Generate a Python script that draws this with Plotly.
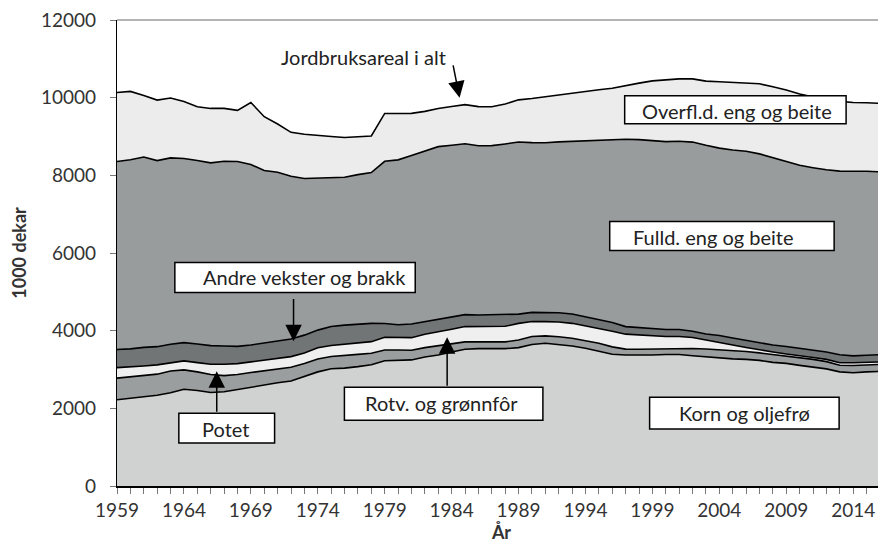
import plotly.graph_objects as go

years = list(range(1959, 2018))

korn = [2220, 2259, 2297, 2336, 2400, 2490, 2459, 2408, 2426, 2485,
        2541, 2605, 2657, 2703, 2823, 2939, 3021, 3036, 3075, 3124,
        3226, 3234, 3247, 3324, 3375, 3452, 3522, 3537, 3537, 3537,
        3563, 3645, 3676, 3650, 3606, 3547, 3478, 3393, 3375, 3368,
        3375, 3388, 3388, 3355, 3324, 3290, 3273, 3260, 3234, 3183,
        3157, 3106, 3067, 3016, 2939, 2918, 2939, 2952, 2959]

potet = [557, 552, 545, 544, 560, 500, 480, 462, 415, 385,
         380, 367, 359, 356, 330, 330, 315, 318, 315, 295,
         278, 270, 250, 240, 238, 224, 190, 175, 172, 175,
         195, 205, 190, 195, 198, 195, 198, 190, 150, 154,
         154, 150, 159, 187, 205, 220, 215, 205, 193, 205,
         185, 197, 193, 187, 170, 185, 180, 184, 185]

rotv = [270, 250, 249, 239, 218, 231, 239, 266, 295, 282,
        275, 275, 274, 273, 270, 291, 282, 293, 283, 298,
        326, 326, 323, 344, 352, 359, 393, 393, 393, 400,
        429, 385, 367, 377, 385, 378, 392, 403, 385, 367,
        342, 313, 303, 282, 231, 193, 141, 103, 77, 64,
        55, 59, 50, 57, 64, 70, 69, 67, 64]

andre = [469, 470, 478, 469, 472, 470, 480, 478, 470, 444,
         436, 444, 445, 454, 462, 454, 488, 495, 495, 472,
         354, 323, 352, 323, 326, 323, 308, 300, 308, 298,
         239, 236, 241, 239, 239, 238, 224, 224, 195, 187,
         170, 180, 180, 160, 154, 172, 180, 179, 179, 180,
         195, 180, 198, 192, 205, 177, 179, 185, 185]

fulld = [4839, 4869, 4902, 4792, 4800, 4741, 4722, 4707, 4756, 4759,
         4646, 4433, 4345, 4191, 4035, 3919, 3824, 3807, 3850, 3883,
         4178, 4245, 4338, 4389, 4448, 4415, 4399, 4356, 4355, 4399,
         4433, 4372, 4364, 4400, 4448, 4518, 4602, 4697, 4825, 4843,
         4859, 4838, 4846, 4872, 4859, 4826, 4843, 4872, 4869, 4818,
         4767, 4718, 4689, 4690, 4731, 4761, 4739, 4702, 4692]

overfl = [1778, 1761, 1584, 1558, 1540, 1470, 1386, 1402, 1361, 1317,
          1599, 1386, 1242, 1130, 1137, 1086, 1070, 1026, 983, 942,
          1232, 1196, 1085, 1027, 983, 1001, 1009, 1008, 1001, 1027,
          1085, 1136, 1188, 1214, 1250, 1293, 1309, 1334, 1386, 1456,
          1532, 1584, 1609, 1627, 1653, 1709, 1735, 1764, 1805, 1830,
          1840, 1833, 1817, 1804, 1796, 1766, 1763, 1761, 1758]

series = [
    ("Korn og oljefrø", korn, "#d0d1d1"),
    ("Potet", potet, "#9b9e9e"),
    ("Rotv. og grønnfôr", rotv, "#efefef"),
    ("Andre vekster og brakk", andre, "#727576"),
    ("Fulld. eng og beite", fulld, "#999c9c"),
    ("Overfl.d. eng og beite", overfl, "#ececec"),
]

y_ticks = [0, 2000, 4000, 6000, 8000, 10000, 12000]
x_ticks = [1959, 1964, 1969, 1974, 1979, 1984, 1989, 1994, 1999, 2004, 2009, 2014]

FONT = "Lato"
ANN_SIZE = 20

fig = go.Figure()
for name, vals, col in series:
    fig.add_trace(go.Scatter(
        x=years, y=vals, name=name, mode="lines", stackgroup="one",
        line=dict(color="black", width=1.6), fillcolor=col,
        hoverinfo="x+y+name"))

# page offset from default body margin
OFF = 8
# plot area in page pixels: left 115, right 886, top 19, bottom 486
L, R, T, B = 115, 886, 19, 486
W, H = 886 - OFF, 550 - OFF


def px(x):
    return (x - L) / (R - L)


def py(y):
    return (B - y) / (B - T)


boxes = [
    # (text, x0, y0, x1, y1, text_cx, text_cy)
    ("Overfl.d. eng og beite", 624, 95, 846, 123, 737, 110),
    ("Fulld. eng og beite", 609, 221, 834, 250, 713, 236),
    ("Andre vekster og brakk", 173, 262, 414, 292, 303, 277),
    ("Potet", 177, 413, 273, 443, 224, 429),
    ("Rotv. og grønnfôr", 343, 387, 542, 420, 440, 403),
    ("Korn og oljefrø", 649, 397, 839, 429, 744, 413),
]

shapes = [dict(type="line", xref="paper", yref="paper", x0=0, x1=1, y0=1, y1=1,
               line=dict(color="#6b6b6b", width=1))]
annotations = []
for text, x0, y0, x1, y1, tx, ty in boxes:
    shapes.append(dict(type="rect", xref="paper", yref="paper",
                       x0=px(x0), x1=px(x1), y0=py(y1), y1=py(y0),
                       fillcolor="white", line=dict(color="black", width=1.5),
                       layer="above"))
    annotations.append(dict(text=text, xref="paper", yref="paper",
                            x=px(tx), y=py(ty), showarrow=False,
                            xanchor="center", yanchor="middle",
                            font=dict(family=FONT, size=ANN_SIZE, color="#222")))

annotations.append(dict(text="Jordbruksareal i alt", xref="paper", yref="paper",
                        x=px(362), y=py(56), showarrow=False,
                        xanchor="center", yanchor="middle",
                        font=dict(family=FONT, size=ANN_SIZE, color="#222")))

arrows = [
    # tail (px), tip (px)
    ((451.7, 63), (458.5, 97)),
    ((292, 297), (292, 341)),
    ((215, 413), (215, 371)),
    ((446, 387), (446, 337)),
]
for (tx, ty), (hx, hy) in arrows:
    annotations.append(dict(text="", xref="x domain", yref="y domain",
                            axref="x domain", ayref="y domain",
                            x=px(hx), y=py(hy), ax=px(tx), ay=py(ty),
                            showarrow=True, arrowhead=2, arrowsize=2.2,
                            arrowwidth=1.5, arrowcolor="black", standoff=0))

fig.update_layout(
    width=W, height=H,
    margin=dict(l=L - OFF, r=0, t=T - OFF, b=H - (B - OFF)),
    paper_bgcolor="white", plot_bgcolor="white",
    showlegend=False,
    font=dict(family=FONT, size=19, color="#333"),
    shapes=shapes, annotations=annotations,
    xaxis=dict(range=[1959, 1959 + (R - L) / 13.42], tickmode="array",
               tickvals=x_ticks, ticktext=[str(v) for v in x_ticks],
               showgrid=False, zeroline=False,
               showline=True, linecolor="black", linewidth=1.5,
               ticks="outside", ticklen=6, tickcolor="#777",
               ticklabeloverflow="allow",
               minor=dict(dtick=1, tick0=1959, ticks="outside", ticklen=6,
                          tickcolor="#777", showgrid=False),
               tickfont=dict(family=FONT, size=19, color="#333"),
               title=dict(text="<b>År</b>", standoff=6,
                          font=dict(family=FONT, size=18, color="#333"))),
    yaxis=dict(range=[0, 12000], tickmode="array", tickvals=y_ticks,
               ticktext=[str(v) for v in y_ticks],
               showgrid=False, zeroline=False,
               showline=True, linecolor="black", linewidth=1.2,
               ticks="outside", ticklen=6, tickcolor="#777",
               ticklabelstandoff=10, ticklabeloverflow="allow",
               tickfont=dict(family=FONT, size=19, color="#333"),
               title=dict(text="<b>1000 dekar</b>", standoff=20,
                          font=dict(family=FONT, size=18, color="#333"))),
)

fig.write_html("out.html")
